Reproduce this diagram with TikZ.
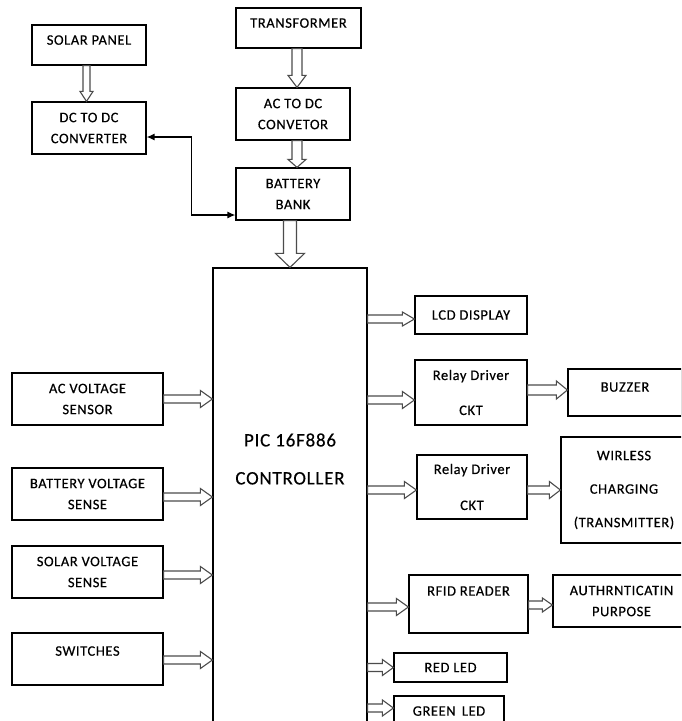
\documentclass[tikz,border=0pt]{standalone}
\usepackage{fontspec}
\setmainfont{Carlito}[LetterSpace=4,FakeBold=0.4]
\usetikzlibrary{arrows.meta,calc}
\tikzset{
  box/.style={draw=black, line width=1.2pt, fill=white, align=center, inner sep=0pt,
    font=\fontsize{14.5}{21}\selectfont},
  fat/.style={draw=black!70, fill=white, line width=1.1pt, line join=miter},
  link/.style={draw=black, line width=1.3pt,
    {Latex[length=8pt,width=7pt]}-{Latex[length=8pt,width=7pt]}},
  big/.style={align=center, inner sep=0pt, font=\fontsize{19}{38}\selectfont}
}
% horizontal hollow arrow: start, end, shaft half, head half, head length
\newcommand\hfat[5]{\draw[fat] let \p1=(#1), \p2=(#2) in
  (\x1,\y1+#3) -- (\x2-#5,\y1+#3) -- (\x2-#5,\y1+#4) -- (\x2,\y1) --
  (\x2-#5,\y1-#4) -- (\x2-#5,\y1-#3) -- (\x1,\y1-#3) -- cycle;}
% vertical (downward) hollow arrow
\newcommand\vfat[5]{\draw[fat] let \p1=(#1), \p2=(#2) in
  (\x1+#3,\y1) -- (\x1+#3,\y2+#5) -- (\x1+#4,\y2+#5) -- (\x1,\y2) --
  (\x1-#4,\y2+#5) -- (\x1-#3,\y2+#5) -- (\x1-#3,\y1) -- cycle;}
\begin{document}
\begin{tikzpicture}[x=1pt,y=-1pt]
\clip (0,0) rectangle (681,721);
\fill[white] (0,0) rectangle (681,721);

% top power chain
\node[box, minimum width=114, minimum height=40, text depth=10pt] (sp) at (89,45) {SOLAR PANEL};
\node[box, minimum width=114, minimum height=52] (dc) at (89,128) {DC TO DC\\CONVERTER};
\node[box, minimum width=125, minimum height=40, text depth=10pt] (tr) at (298.5,28) {TRANSFORMER};
\node[box, minimum width=114, minimum height=52] (acdc) at (293,114) {AC TO DC\\CONVETOR};
\node[box, minimum width=114, minimum height=52] (bat) at (293,194) {BATTERY\\BANK};

% controller
\node[box, minimum width=154, minimum height=492] (pic) at (290,514) {};
\node[big] (pictext) at (290,459) {PIC 16F886\\CONTROLLER};

% left inputs
\node[box, minimum width=151, minimum height=52] (acs) at (87.5,399) {AC VOLTAGE\\SENSOR};
\node[box, minimum width=151, minimum height=52] (bvs) at (87.5,494) {BATTERY VOLTAGE\\SENSE};
\node[box, minimum width=151, minimum height=52] (svs) at (87.5,572) {SOLAR VOLTAGE\\SENSE};
\node[box, minimum width=151, minimum height=52, text depth=16pt] (sw) at (87.5,659) {SWITCHES};

% right outputs
\node[box, minimum width=112, minimum height=38] (lcd) at (471,315) {LCD DISPLAY};
\node[box, minimum width=112, minimum height=65] (r1) at (471,392.5) {Relay Driver\\[14pt]CKT};
\node[box, minimum width=114, minimum height=47, text depth=11pt] (buz) at (625,392.5) {BUZZER};
\node[box, minimum width=110, minimum height=64] (r2) at (472,487) {Relay Driver\\[15pt]CKT};
\node[box, minimum width=126, minimum height=106] (wl) at (624,490) {WIRLESS\\[12.5pt]CHARGING\\[12.5pt](TRANSMITTER)};
\node[box, minimum width=119, minimum height=58, text depth=26pt] (rfid) at (468.5,604) {RFID READER};
\node[box, minimum width=137, minimum height=52] (auth) at (621.5,601) {AUTHRNTICATIN\\PURPOSE};
\node[box, minimum width=113, minimum height=29] (red) at (450.5,667.5) {RED LED};
\node[box, minimum width=110, minimum height=44, text depth=14pt] (green) at (449,718) {GREEN \,LED};

% vertical hollow arrows
\vfat{[xshift=-2.5pt]sp.south}{[xshift=-2.5pt]dc.north}{3.5pt}{6.5pt}{10pt}
\vfat{[xshift=-1.5pt]tr.south}{[xshift=4pt]acdc.north}{5pt}{9pt}{12pt}
\vfat{[xshift=4pt]acdc.south}{[xshift=4pt]bat.north}{5pt}{9pt}{8pt}
\vfat{[xshift=-3pt]bat.south}{[xshift=-3pt]bat.south |- pic.north}{6.5pt}{14.5pt}{14pt}

% left hollow arrows
\hfat{acs.east}{pic.west |- acs.east}{4pt}{8.5pt}{12pt}
\hfat{[yshift=-3pt]bvs.east}{pic.west |- bvs.east}{4pt}{8.5pt}{12pt}
\hfat{[yshift=-3pt]svs.east}{pic.west |- svs.east}{4pt}{8.5pt}{12pt}
\hfat{[yshift=-1pt]sw.east}{pic.west |- sw.east}{4pt}{8.5pt}{12pt}

% right hollow arrows
\hfat{[yshift=-4pt]pic.east |- lcd.west}{lcd.west}{4pt}{7pt}{12pt}
\hfat{[yshift=-7.5pt]pic.east |- r1.west}{r1.west}{4pt}{8.5pt}{12pt}
\hfat{[yshift=-3pt]pic.east |- r2.west}{r2.west}{4pt}{8.5pt}{12pt}
\hfat{[yshift=-3pt]pic.east |- rfid.west}{rfid.west}{4pt}{8.5pt}{12pt}
\hfat{pic.east |- red.west}{red.west}{4pt}{8pt}{11pt}
\hfat{[yshift=10pt]pic.east |- green.west}{green.west}{4pt}{8pt}{11pt}
\hfat{[yshift=2.5pt]r1.east}{buz.west}{5pt}{9pt}{11pt}
\hfat{[yshift=-3pt]r2.east}{wl.west}{4pt}{8.5pt}{11pt}
\hfat{[yshift=-1pt]rfid.east}{auth.west}{4pt}{7pt}{10pt}

% black bidirectional link
\draw[link] ([yshift=-9pt]dc.east) -- ++(45pt,0) |- ([yshift=-21pt]bat.west);
\end{tikzpicture}
\end{document}
